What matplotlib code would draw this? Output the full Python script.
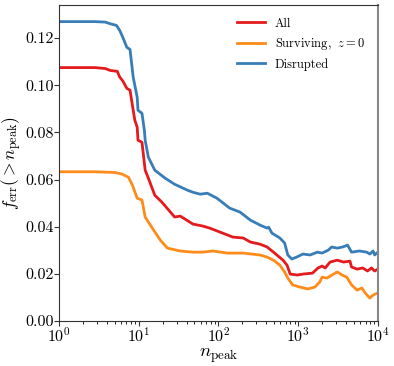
import numpy as np
import matplotlib
matplotlib.use('Agg')
import matplotlib.pyplot as plt

plt.rcParams['font.family'] = 'serif'
plt.rcParams['font.serif'] = ['cmr10']
plt.rcParams['mathtext.fontset'] = 'cm'
plt.rcParams['axes.formatter.use_mathtext'] = True
plt.rcParams['axes.unicode_minus'] = False

# log10(n_peak) and f_err
logn_all = [0.00, 0.45, 0.58, 0.64, 0.73, 0.76, 0.80, 0.85, 0.89, 0.93, 0.95, 0.98,
            0.99, 1.04, 1.08, 1.12, 1.20, 1.29, 1.45, 1.52, 1.60, 1.68, 1.80,
            1.89, 2.02, 2.18, 2.31, 2.40, 2.52, 2.61, 2.69, 2.81, 2.86, 2.90,
            2.99, 3.06, 3.18, 3.25, 3.30, 3.34, 3.40, 3.49, 3.57, 3.65, 3.67,
            3.74, 3.81, 3.87, 3.92, 3.96, 4.00]
f_all = [0.1075, 0.1075, 0.1071, 0.1063, 0.1059, 0.1035, 0.1018, 0.0987, 0.0979,
         0.0894, 0.0852, 0.0822, 0.0767, 0.0758, 0.0640, 0.0606, 0.0534, 0.0504,
         0.0441, 0.0445, 0.0428, 0.0411, 0.0403, 0.0394, 0.0377, 0.0356, 0.0352,
         0.0335, 0.0326, 0.0314, 0.0292, 0.0258, 0.0237, 0.0199, 0.0195, 0.0199,
         0.0203, 0.0225, 0.0233, 0.0225, 0.0250, 0.0258, 0.0250, 0.0254, 0.0229,
         0.0220, 0.0225, 0.0212, 0.0225, 0.0212, 0.0220]

logn_surv = [0.00, 0.45, 0.70, 0.79, 0.87, 0.92, 0.98, 1.04, 1.08, 1.17, 1.27,
             1.36, 1.52, 1.68, 1.80, 1.93, 2.11, 2.31, 2.52, 2.61, 2.69, 2.77,
             2.83, 2.87, 2.93, 3.02, 3.12, 3.21, 3.27, 3.30, 3.36, 3.49, 3.55,
             3.61, 3.67, 3.74, 3.80, 3.84, 3.90, 3.94, 4.00]
f_surv = [0.0633, 0.0633, 0.0630, 0.0623, 0.0610, 0.0576, 0.0521, 0.0513, 0.0441,
          0.0394, 0.0343, 0.0309, 0.0297, 0.0292, 0.0292, 0.0297, 0.0288, 0.0288,
          0.0280, 0.0271, 0.0258, 0.0237, 0.0208, 0.0182, 0.0153, 0.0144, 0.0136,
          0.0144, 0.0165, 0.0186, 0.0182, 0.0208, 0.0195, 0.0186, 0.0153, 0.0131,
          0.0140, 0.0119, 0.0097, 0.0110, 0.0119]

logn_disr = [0.00, 0.45, 0.58, 0.64, 0.72, 0.76, 0.80, 0.85, 0.89, 0.93, 0.98,
             0.99, 1.04, 1.07, 1.08, 1.12, 1.20, 1.33, 1.45, 1.61, 1.68, 1.77,
             1.86, 1.98, 2.14, 2.27, 2.40, 2.52, 2.61, 2.63, 2.67, 2.77, 2.83,
             2.87, 2.92, 2.98, 3.06, 3.15, 3.24, 3.30, 3.38, 3.42, 3.49, 3.56,
             3.62, 3.67, 3.77, 3.86, 3.90, 3.94, 3.96, 4.00]
f_disr = [0.1270, 0.1270, 0.1268, 0.1261, 0.1254, 0.1233, 0.1203, 0.1161, 0.1152,
          0.1034, 0.0949, 0.0894, 0.0881, 0.0809, 0.0767, 0.0695, 0.0640, 0.0606,
          0.0580, 0.0555, 0.0546, 0.0538, 0.0542, 0.0521, 0.0479, 0.0462, 0.0428,
          0.0407, 0.0394, 0.0398, 0.0373, 0.0352, 0.0331, 0.0280, 0.0263, 0.0271,
          0.0284, 0.0280, 0.0292, 0.0288, 0.0301, 0.0314, 0.0309, 0.0314, 0.0322,
          0.0292, 0.0297, 0.0292, 0.0284, 0.0297, 0.0280, 0.0292]

labels = ['All', r'Surviving, $\;z=0$', 'Disrupted']
colors = ['#e41a1c', '#ff8c1a', '#377eb8']

fig = plt.figure(figsize=(3.94, 3.66), dpi=100)
ax = fig.add_axes([0.150, 0.123, 0.809, 0.863])

series = [(logn_all, f_all), (logn_surv, f_surv), (logn_disr, f_disr)]
for (lx, fy), lab, c in zip(series, labels, colors):
    ax.plot(10 ** np.array(lx), fy, color=c, lw=2, label=lab)

ax.set_xscale('log')
ax.set_xlim(1, 1e4)
ax.set_ylim(0, 0.134)
ax.set_yticks([0, 0.02, 0.04, 0.06, 0.08, 0.10, 0.12])
ax.set_yticklabels(['0.00', '0.02', '0.04', '0.06', '0.08', '0.10', '0.12'])
ax.tick_params(labelsize=11.5, direction='out', color='#333333', pad=0.5)
ax.tick_params(which='major', length=3.5)
ax.tick_params(which='minor', length=2)
for s in ax.spines.values():
    s.set_color('#333333')
ax.spines['right'].set_color('#888888')
ax.spines['right'].set_linewidth(1.5)

ax.set_xlabel(r'$n_{\rm peak}$', fontsize=13.5, labelpad=1)
ax.set_ylabel(r'$f_{\rm err}(> n_{\rm peak})$', fontsize=12.5, labelpad=1)
ax.legend(loc='upper right', frameon=False, fontsize=9, handlelength=2.2,
          borderaxespad=0.6)

fig.savefig('out.png', dpi=100)
